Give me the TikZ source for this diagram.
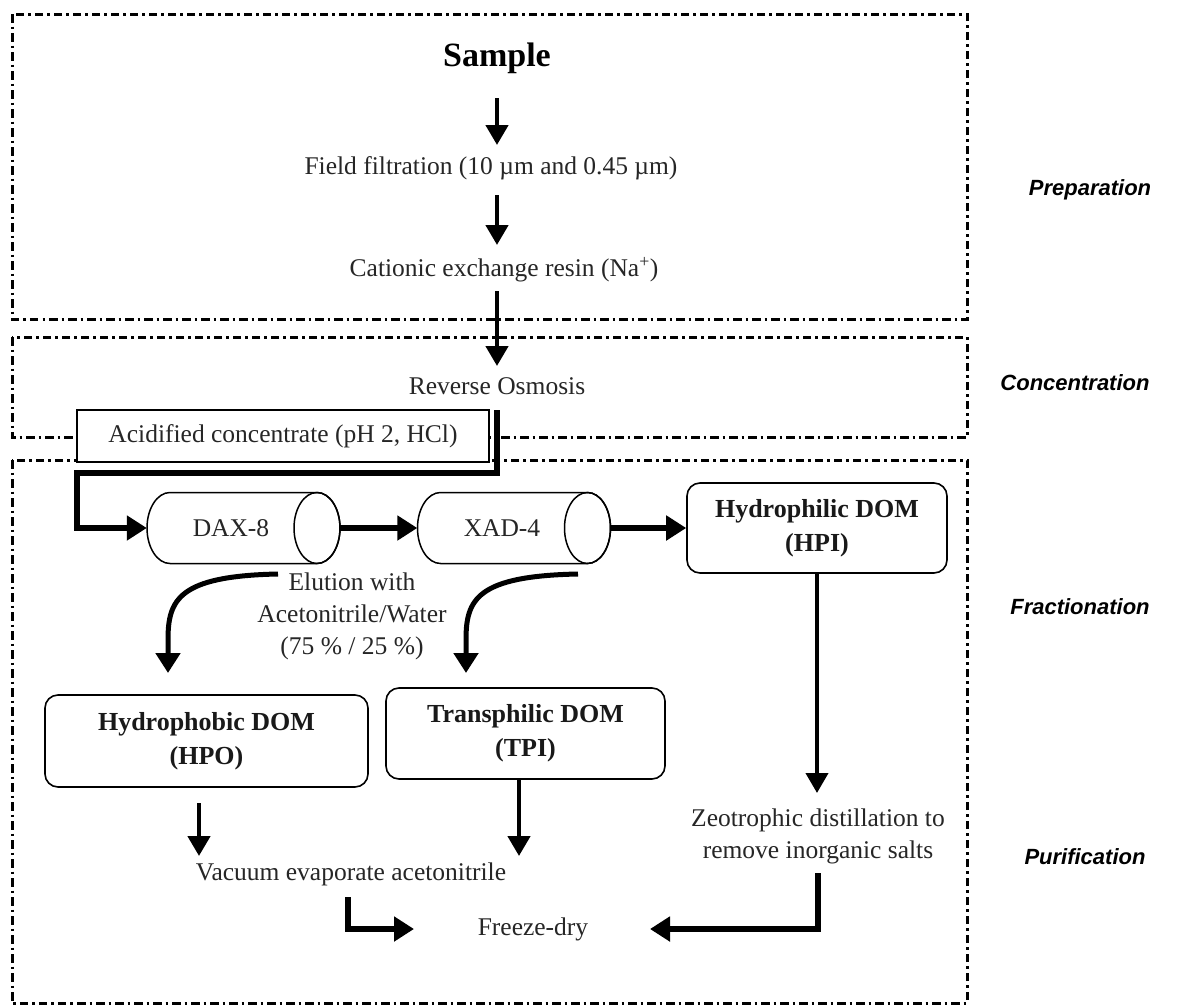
\documentclass[tikz,border=0pt]{standalone}
\usepackage{fontspec}
\setmainfont{Liberation Serif}
\newfontfamily\labfont{Liberation Sans}
\usetikzlibrary{arrows.meta}
\begin{document}
\begin{tikzpicture}[x=1pt,y=-1pt,
  frame/.style={line width=3pt, dash pattern=on 8.5pt off 4pt on 2.5pt off 4pt},
  txt/.style={font=\fontsize{25.5}{32}\selectfont, inner sep=0pt, align=center, text=black!85},
  btxt/.style={font=\fontsize{26}{34}\selectfont\bfseries, inner sep=0pt, align=center, text=black!90},
  lab/.style={font=\labfont\fontsize{22}{26}\selectfont\bfseries\itshape, inner sep=0pt},
  rbox/.style={draw, line width=1.6pt, rounded corners=13pt, fill=white, btxt},
  cylbox/.style={minimum width=193pt, minimum height=71pt, inner sep=0pt},
  arr/.style={line width=4.5pt, -{Triangle[length=20pt,width=22pt]}},
  fat/.style={line width=6pt, -{Triangle[length=20pt,width=24pt]}},
  curv/.style={line width=5pt, -{Triangle[length=20pt,width=24pt]}},
]
\fill[white] (0,0) rectangle (1179,1007);
\useasboundingbox (0,0) rectangle (1179,1007);

% frames
\draw[frame] (12,14) rectangle (967,319);
\draw[frame] (12,337) rectangle (967,437);
\draw[frame] (12,460) rectangle (967,1003);

% stage labels
\node[lab] (lprep) at (1090,190) {Preparation};
\node[lab] (lconc) at (1075,383) {Concentration};
\node[lab] (lfrac) at (1080,607) {Fractionation};
\node[lab] (lpuri) at (1085,857) {Purification};

% preparation
\node[font=\fontsize{34}{40}\selectfont\bfseries, inner sep=0pt] (sample) at (497,58) {Sample};
\node[txt] (filt) at (491,168) {Field filtration (10 µm and 0.45 µm)};
\node[txt] (cat) at (504,270) {Cationic exchange resin (Na\textsuperscript{+})};
\coordinate (s1) at (497,98);
\coordinate (s2) at (497,195);
\coordinate (s3) at (497,291);

\draw[arr] (s1) -- (s1 |- 0,145);
\draw[arr] (s2) -- (s2 |- 0,245);
\draw[arr] (s3) -- (s3 |- 0,366);

% concentration
\node[txt] (ro) at (497,386) {Reverse Osmosis};
\node[draw, line width=1.4pt, fill=white, minimum width=412pt, minimum height=52pt, txt] (acid) at (283,436) {Acidified concentrate (pH 2, HCl)};

% fractionation: columns
\node[cylbox] (dax) at (243.5,528) {};
\node[cylbox] (xad) at (514,528) {};
\foreach \cx in {243.5,514}{
  \filldraw[fill=white, line width=1.5pt]
    (\cx+73.5,492.5) -- (\cx-73.5,492.5)
    arc[start angle=-90, end angle=-270, x radius=23, y radius=35.5]
    -- (\cx+73.5,563.5)
    arc[start angle=90, end angle=-90, x radius=23, y radius=35.5];
  \draw[line width=1.5pt] (\cx+73.5,528) ellipse[x radius=23, y radius=35.5];
}
\node[txt] (daxl) at (231,528) {DAX-8};
\node[txt] (xadl) at (502,528) {XAD-4};

\node[rbox, minimum width=260pt, minimum height=90pt] (hpi) at (817,528) {Hydrophilic DOM\\(HPI)};

\coordinate (r1) at (497,410);
\draw[line width=6pt, line join=miter, -{Triangle[length=20pt,width=24pt]}]
  (r1) -- (497,473) -- (77,473) -- (77,528) -- (dax.west);
\draw[fat] (dax.east) -- (xad.west);
\draw[fat] (xad.east) -- (hpi.west);

\node[txt] (elu) at (352,616) {Elution with\\Acetonitrile/Water\\(75 \% / 25 \%)};

\node[rbox, minimum width=323pt, minimum height=92pt] (hpo) at (206.5,741) {Hydrophobic DOM\\(HPO)};
\node[rbox, minimum width=279pt, minimum height=91pt] (tpi) at (525.5,733.5) {Transphilic DOM\\(TPI)};

\coordinate (c1) at (278,574);
\coordinate (c2) at (578,574);
\draw[curv] (c1) .. controls (178,576) and (168,600) .. (168,640) -- (168,673);
\draw[curv] (c2) .. controls (476,576) and (466,600) .. (466,640) -- (466,673);

% purification
\node[txt] (zeo) at (818,836) {Zeotrophic distillation to\\remove inorganic salts};
\node[txt] (vac) at (351,874) {Vacuum evaporate acetonitrile};
\node[txt] (fd) at (533,929) {Freeze-dry};

\draw[line width=4pt, -{Triangle[length=20pt,width=22pt]}] (hpi.south) -- (hpi.south |- 0,793);
\coordinate (p1) at (199,803);
\draw[arr] (p1) -- (p1 |- 0,856);
\draw[arr] (tpi.south -| 519,0) -- (519,856);

\coordinate (v1) at (348,897);
\coordinate (z1) at (818,873);
\draw[fat, line join=miter] (v1) -- (v1 |- fd.west) -- (fd.west -| 414,0);
\draw[fat, line join=miter] (z1) -- (z1 |- fd.east) -- (fd.east -| 650,0);
\end{tikzpicture}
\end{document}
